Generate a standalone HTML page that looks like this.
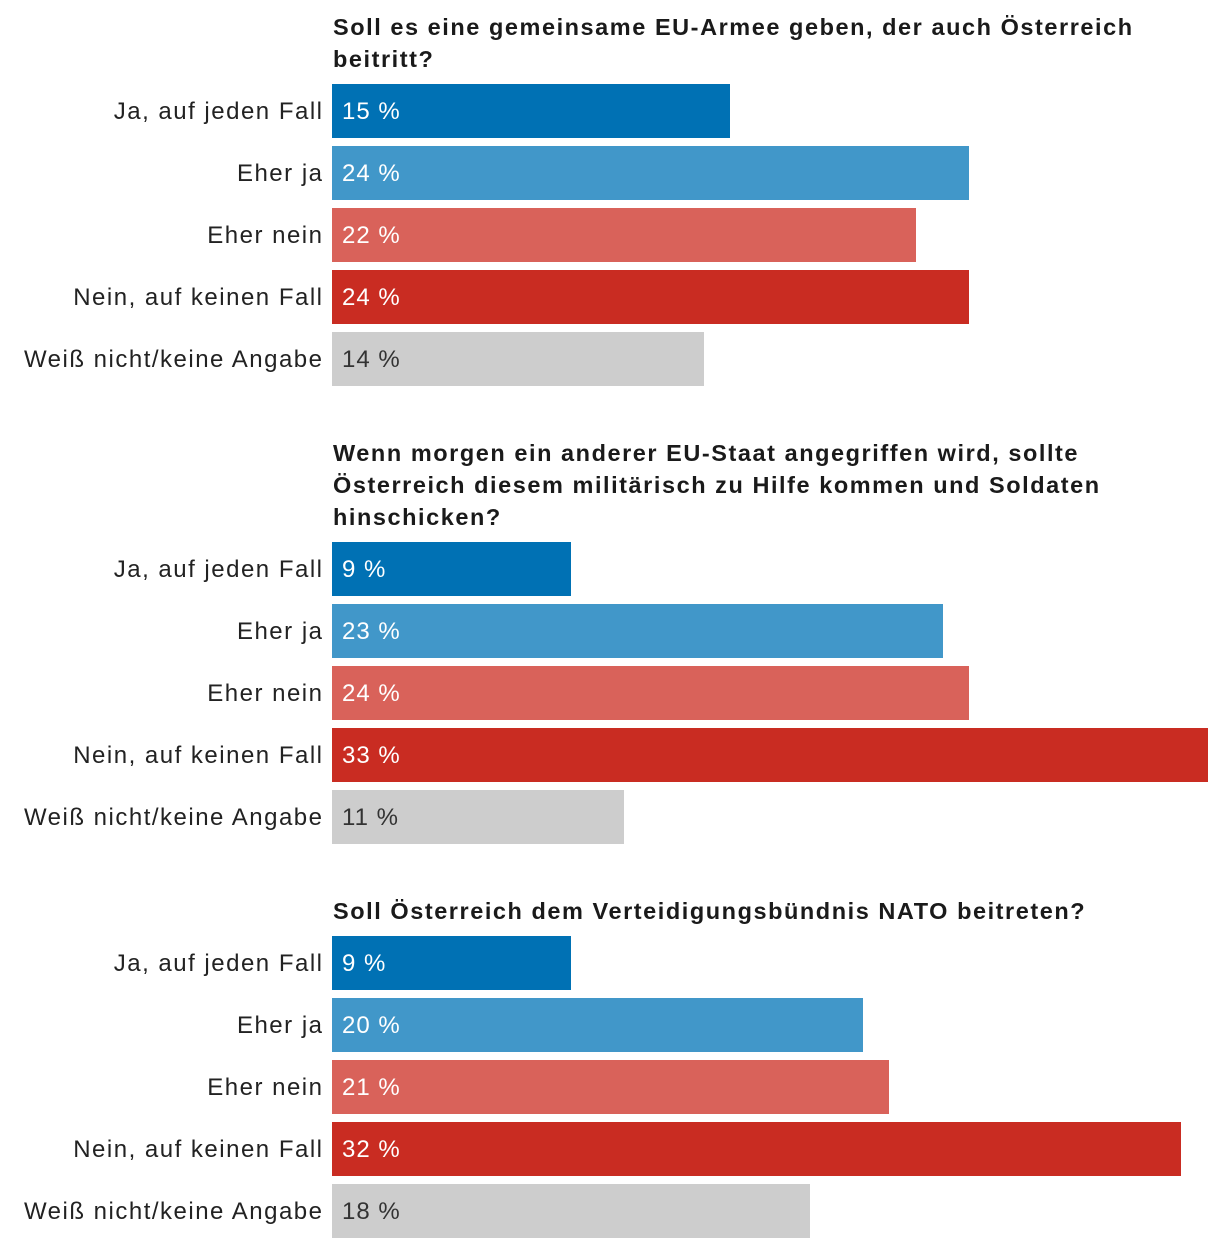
<!DOCTYPE html>
<html><head><meta charset="utf-8">
<style>
body{margin:0;background:#fff;width:1220px;height:1248px;overflow:hidden;position:relative;font-family:"Liberation Sans",sans-serif;}
.t{position:absolute;left:333px;font-weight:bold;font-size:23.5px;line-height:32px;color:#1a1a1a;letter-spacing:1.55px;}
.l{position:absolute;right:896.5px;font-size:24px;color:#222;white-space:nowrap;line-height:56px;letter-spacing:1.5px;}
.b{position:absolute;left:332px;height:54px;}
.v{position:absolute;left:342px;font-size:24px;line-height:56px;white-space:nowrap;letter-spacing:1px;}
</style></head><body>
<div id="root"></div>
<script>
const titles=["Soll es eine gemeinsame EU-Armee geben, der auch Österreich<br>beitritt?","Wenn morgen ein anderer EU-Staat angegriffen wird, sollte<br>Österreich diesem militärisch zu Hilfe kommen und Soldaten<br>hinschicken?","Soll Österreich dem Verteidigungsbündnis NATO beitreten?"];
const categories=["Ja, auf jeden Fall","Eher ja","Eher nein","Nein, auf keinen Fall","Weiß nicht/keine Angabe"];
const q1=[15,24,22,24,14];
const q2=[9,23,24,33,11];
const q3=[9,20,21,32,18];
const series=[q1,q2,q3];
const colors=["#0071b4","#4197c9","#d9625a","#c92c22","#cdcdcd"];
const titleTop=[11,437,895];
const barTop=[84,542,936];
const pxPer=876/33;
const x=v=>v*pxPer;
const root=document.getElementById('root');
series.forEach((vals,g)=>{
  const t=document.createElement('div');t.className='t';t.style.top=titleTop[g]+'px';t.innerHTML=titles[g];
  
  
  root.appendChild(t);
  vals.forEach((v,i)=>{
    const y=barTop[g]+i*62;
    const l=document.createElement('div');l.className='l';l.style.top=y+'px';l.textContent=categories[i];
    
    
    root.appendChild(l);
    const b=document.createElement('div');b.className='b';b.style.top=y+'px';b.style.width=x(v)+'px';b.style.background=colors[i];
    
    
    root.appendChild(b);
    const s=document.createElement('div');s.className='v';s.style.top=y+'px';s.style.color=i===4?'#333':'#fff';s.textContent=v+' %';
    
    
    root.appendChild(s);
  });
});
</script>
</body></html>
